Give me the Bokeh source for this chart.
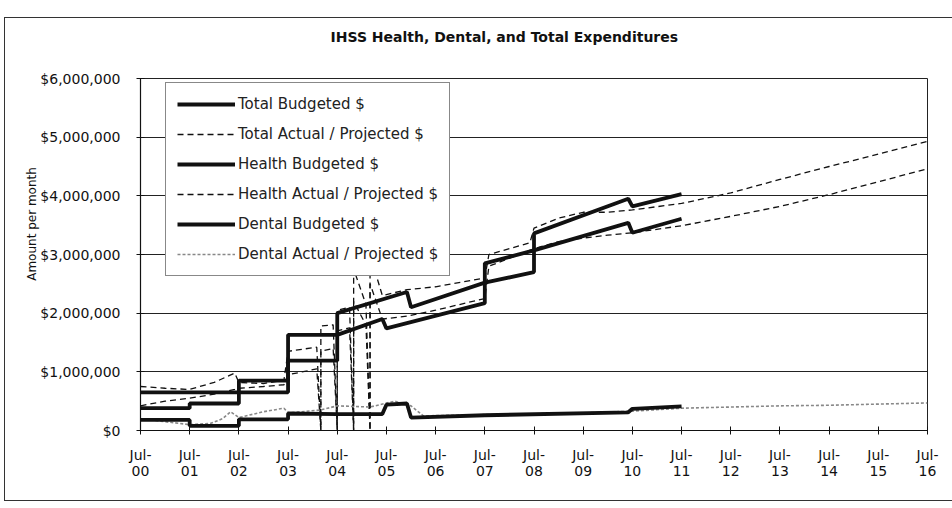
from bokeh.plotting import figure
from bokeh.models import FixedTicker, NumeralTickFormatter, Legend, LegendItem, Range1d
from bokeh.embed import file_html
from bokeh.resources import INLINE

# ---------------- data (values in $ millions, dates YYYY-MM) ----------------
tick_years = ["00", "01", "02", "03", "04", "05", "06", "07", "08",
              "09", "10", "11", "12", "13", "14", "15", "16"]

total_budget_dates = ["2000-07", "2002-07", "2002-07", "2003-07", "2003-07", "2004-07", "2004-07",
                      "2005-12", "2006-01", "2007-07", "2008-07", "2008-07", "2010-06", "2010-07", "2011-07"]
total_budget_vals = [0.65, 0.65, 0.85, 0.85, 1.63, 1.63, 2.00,
                     2.36, 2.10, 2.52, 2.70, 3.36, 3.95, 3.82, 4.03]

health_budget_dates = ["2000-07", "2001-07", "2001-07", "2002-07", "2002-07", "2003-07", "2003-07",
                       "2004-07", "2004-07", "2005-06", "2005-07", "2007-07", "2007-07", "2008-07",
                       "2010-06", "2010-07", "2011-07"]
health_budget_vals = [0.38, 0.38, 0.46, 0.46, 0.65, 0.65, 1.19,
                      1.19, 1.63, 1.90, 1.74, 2.17, 2.85, 3.07,
                      3.54, 3.37, 3.61]

dental_budget_dates = ["2000-07", "2001-07", "2001-07", "2002-07", "2002-07", "2003-07", "2003-07",
                       "2004-07", "2005-06", "2005-07", "2005-12", "2006-01", "2007-07", "2010-06",
                       "2010-07", "2011-07"]
dental_budget_vals = [0.18, 0.18, 0.08, 0.08, 0.19, 0.19, 0.29,
                      0.28, 0.28, 0.44, 0.46, 0.22, 0.26, 0.31,
                      0.37, 0.41]

total_actual_dates = ["2000-07", "2001-01", "2001-07", "2002-01", "2002-06", "2002-07", "2003-01",
                      "2003-06", "2003-07", "2004-02", "2004-03", "2004-03", "2004-06", "2004-07",
                      "2004-07", "2004-10", "2004-11", "2004-11", "2005-02", "2005-03", "2005-03",
                      "2005-06", "2005-12", "2006-07", "2007-07", "2007-08", "2008-06", "2008-07",
                      "2009-01", "2009-07", "2010-01", "2010-07", "2011-07", "2012-07", "2013-07",
                      "2014-07", "2015-07", "2016-07"]
total_actual_vals = [0.75, 0.72, 0.70, 0.82, 0.98, 0.82, 0.80,
                     0.86, 1.35, 1.42, 0.00, 1.78, 1.80, 0.00,
                     2.05, 2.10, 0.00, 2.75, 2.15, 0.00, 3.00,
                     2.30, 2.40, 2.45, 2.60, 3.00, 3.20, 3.45,
                     3.62, 3.72, 3.72, 3.76, 3.87, 4.05, 4.28,
                     4.50, 4.71, 4.93]

health_actual_dates = ["2000-07", "2001-01", "2001-07", "2002-01", "2002-06", "2002-07", "2003-01",
                       "2003-06", "2003-07", "2004-02", "2004-03", "2004-03", "2004-06", "2004-07",
                       "2004-07", "2004-10", "2004-11", "2004-11", "2005-02", "2005-03", "2005-03",
                       "2005-06", "2005-12", "2006-07", "2007-07", "2007-08", "2008-07", "2009-01",
                       "2009-07", "2010-01", "2010-07", "2011-07", "2012-07", "2013-07", "2014-07",
                       "2015-07", "2016-07"]
health_actual_vals = [0.42, 0.50, 0.55, 0.62, 0.70, 0.72, 0.75,
                      0.78, 0.95, 1.05, 0.00, 1.35, 1.40, 0.00,
                      1.70, 1.75, 0.00, 2.20, 1.80, 0.00, 2.50,
                      1.90, 1.95, 2.05, 2.25, 2.80, 3.10, 3.22,
                      3.28, 3.33, 3.37, 3.49, 3.65, 3.82, 4.02,
                      4.24, 4.46]

dental_actual_dates = ["2000-07", "2001-01", "2001-07", "2001-12", "2002-03", "2002-05", "2002-07",
                       "2003-01", "2003-06", "2003-07", "2004-03", "2004-07", "2005-03", "2005-09",
                       "2006-01", "2006-04", "2007-07", "2009-07", "2010-07", "2011-07", "2012-07",
                       "2013-07", "2014-07", "2015-07", "2016-07"]
dental_actual_vals = [0.20, 0.15, 0.10, 0.12, 0.20, 0.32, 0.22,
                      0.32, 0.38, 0.30, 0.35, 0.42, 0.40, 0.50,
                      0.42, 0.25, 0.27, 0.30, 0.33, 0.38, 0.40,
                      0.42, 0.43, 0.45, 0.47]


def to_year(d):
    y, m = d.split("-")
    return int(y) + (int(m) - 1) / 12.0


def xs(dates):
    return [to_year(d) for d in dates]


def ys(vals):
    return [v * 1e6 for v in vals]


FONT = "DejaVu Sans"

p = figure(width=947, height=482, output_backend="svg", toolbar_location=None,
           x_range=Range1d(2000.5, 2016.5), y_range=Range1d(0, 6e6),
           min_border_left=135, min_border_right=25, min_border_top=60, min_border_bottom=70,
           background_fill_color="white", border_fill_color="white")
p.margin = (18, 0, 0, 5)
p.styles = {"outline": "1px solid #333"}

# blank trailing lines lift the title higher above the plot frame
p.title.text = "IHSS Health, Dental, and Total Expenditures\n\u00a0\n\u00a0"
p.title.text_font = FONT
p.title.text_font_size = "14px"
p.title.text_font_style = "bold"
p.title.text_line_height = 1.0
p.title.align = "left"
p.title.offset = 190
p.title.standoff = 4
p.title.text_color = "#111"

p.outline_line_color = "#222"
p.outline_line_width = 1

p.xgrid.grid_line_color = None
p.ygrid.grid_line_color = "#222"
p.ygrid.grid_line_width = 1

ticks = [2000.5 + i for i in range(len(tick_years))]
p.xaxis.ticker = FixedTicker(ticks=ticks)
p.xaxis.major_label_overrides = {t: "Jul-\n" + lab for t, lab in zip(ticks, tick_years)}
p.yaxis.ticker = FixedTicker(ticks=[i * 1e6 for i in range(7)])
p.yaxis.formatter = NumeralTickFormatter(format="$0,0")

for ax in (p.xaxis[0], p.yaxis[0]):
    ax.axis_line_color = "#111"
    ax.axis_line_width = 1.2
    ax.major_tick_line_color = "#111"
    ax.major_tick_in = 4
    ax.major_tick_out = 4
    ax.minor_tick_line_color = None
    ax.major_label_text_font = FONT
    ax.major_label_text_font_size = "14px"
    ax.major_label_text_color = "#111"
p.xaxis.major_label_text_line_height = 1.0
p.yaxis.major_label_standoff = 16
p.xaxis.major_label_standoff = 12

p.yaxis.axis_label = "\u00a0" * 16 + "Amount per month"
p.yaxis.axis_label_text_font = FONT
p.yaxis.axis_label_text_font_size = "12px"
p.yaxis.axis_label_text_font_style = "normal"
p.yaxis.axis_label_text_color = "#111"
p.yaxis.axis_label_standoff = -2

BLACK = "#111"
r_ta = p.line(xs(total_actual_dates), ys(total_actual_vals), line_color=BLACK,
              line_width=1.3, line_dash="6 4")
r_ha = p.line(xs(health_actual_dates), ys(health_actual_vals), line_color=BLACK,
              line_width=1.3, line_dash="6 4")
r_da = p.line(xs(dental_actual_dates), ys(dental_actual_vals), line_color="#888",
              line_width=1.6, line_dash="3 2")
r_tb = p.line(xs(total_budget_dates), ys(total_budget_vals), line_color=BLACK, line_width=3.8)
r_hb = p.line(xs(health_budget_dates), ys(health_budget_vals), line_color=BLACK, line_width=3.8)
r_db = p.line(xs(dental_budget_dates), ys(dental_budget_vals), line_color=BLACK, line_width=3.8)

legend = Legend(items=[
    LegendItem(label="Total Budgeted $", renderers=[r_tb]),
    LegendItem(label="Total Actual / Projected $", renderers=[r_ta]),
    LegendItem(label="Health Budgeted $", renderers=[r_hb]),
    LegendItem(label="Health Actual / Projected $", renderers=[r_ha]),
    LegendItem(label="Dental Budgeted $", renderers=[r_db]),
    LegendItem(label="Dental Actual / Projected $", renderers=[r_da]),
], location=(25, 154))
legend.border_line_color = "#111"
legend.border_line_width = 1.2
legend.background_fill_color = "white"
legend.background_fill_alpha = 1
legend.label_text_font = FONT
legend.label_text_font_size = "15px"
legend.label_text_color = "#222"
legend.glyph_width = 58
legend.glyph_height = 20
legend.label_height = 20
legend.spacing = 10
legend.padding = 11
legend.label_standoff = 3
legend.margin = 0
p.add_layout(legend)

open("out.html", "w").write(file_html(p, INLINE))
